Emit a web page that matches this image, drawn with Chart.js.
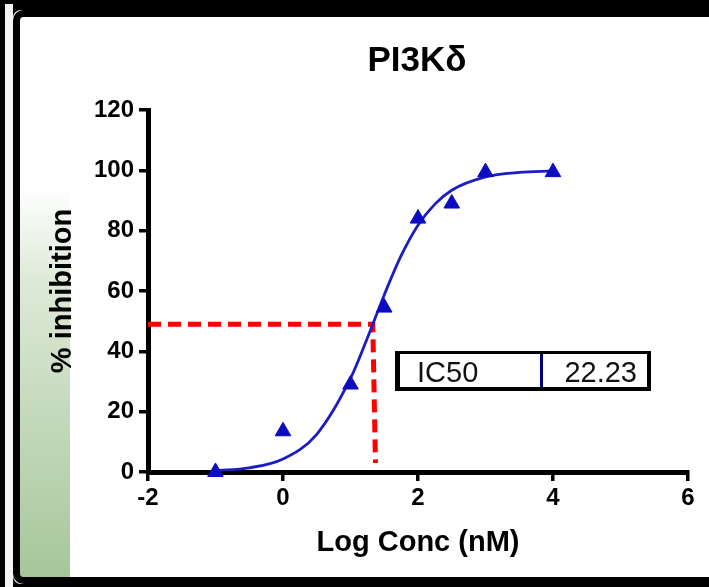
<!DOCTYPE html>
<html>
<head>
<meta charset="UTF-8">
<title>PI3Kδ</title>
<script src="https://cdn.jsdelivr.net/npm/chart.js"></script>
<style>
  html, body { margin: 0; padding: 0; background: #000; }
  #wrap { width: 709px; height: 587px; }
</style>
</head>
<body>
<div id="wrap"><canvas id="grafico" width="709" height="587"></canvas></div>
<script>
// pontos medidos (log da concentração, % inibição)
const logConc = [-1, 0, 1, 1.5, 2, 2.5, 3, 4];
const inibicao = [0, 13.5, 29, 54.5, 84, 89, 99.4, 99.4];

// curva ajustada
const curvaLog = [-1, -0.5, 0, 0.5, 1, 1.25, 1.5, 1.75, 2, 2.25, 2.5, 3, 3.5, 4];
const curvaInib = [0.45, 1.4, 4.3, 12.5, 31, 44.4, 58.7, 71.7, 81.8, 88.8, 93.4, 97.8, 99.3, 99.8];

// linhas do IC50
const ic50Texto = 'IC50';
const ic50Valor = '22.23';
const ic50Log = [-2, 1.33, 1.33, 1.37];
const ic50Inib = [49, 49, 49, 3];

const xTicks = [-2, 0, 2, 4, 6];
const yTicks = [0, 20, 40, 60, 80, 100, 120];

const fonte = "'Liberation Sans', Arial, sans-serif";

function pares(xs, ys) {
    return xs.map((x, i) => ({ x: x, y: ys[i] }));
}

// fundo, moldura e faixa verde
const fundo = {
    id: 'fundo',
    beforeDraw(chart) {
        const c = chart.ctx;
        c.save();
        c.fillStyle = '#000';
        c.fillRect(0, 0, 709, 587);
        c.fillStyle = '#f4f4f4';
        c.fillRect(5, 4, 8, 583);
        c.fillStyle = '#fff';
        c.beginPath();
        c.roundRect(13, 10, 720, 574, 8);
        c.fill();
        const g = c.createLinearGradient(0, 185, 0, 578);
        g.addColorStop(0, 'rgba(255,255,255,1)');
        g.addColorStop(0.25, '#dde9d7');
        g.addColorStop(1, '#a6c69a');
        c.fillStyle = g;
        c.fillRect(18, 185, 52, 393);
        c.lineWidth = 7;
        c.strokeStyle = '#000';
        c.beginPath();
        c.roundRect(16.5, 13.5, 720, 567, 7);
        c.stroke();
        // título
        c.fillStyle = '#000';
        c.font = 'bold 35px ' + fonte;
        c.textAlign = 'center';
        c.textBaseline = 'alphabetic';
        c.fillText('PI3Kδ', 417, 71);
        c.restore();
    }
};

// caixa do IC50
const caixa = {
    id: 'caixa',
    afterDraw(chart) {
        const c = chart.ctx;
        c.save();
        c.fillStyle = '#000';
        c.fillRect(395, 351, 256, 40);
        c.fillStyle = '#fff';
        c.fillRect(400, 354, 247, 33);
        c.fillStyle = '#000080';
        c.fillRect(540, 354, 3, 33);
        c.fillStyle = '#111';
        c.font = '29px ' + fonte;
        c.textBaseline = 'alphabetic';
        c.textAlign = 'left';
        c.fillText(ic50Texto, 417, 382);
        c.textAlign = 'right';
        c.fillText(ic50Valor, 637, 382);
        c.restore();
    }
};

const eixo = {
    drawOnChartArea: false,
    drawTicks: true,
    tickLength: 9,
    lineWidth: 3.5,
    color: '#000'
};

new Chart(document.getElementById('grafico'), {
    type: 'scatter',
    data: {
        datasets: [
            {
                data: pares(ic50Log, ic50Inib),
                showLine: true,
                borderColor: '#ff0000',
                borderWidth: 5,
                borderDash: [13, 7],
                pointRadius: 0,
                order: 3
            },
            {
                data: pares(curvaLog, curvaInib),
                showLine: true,
                borderColor: '#1c1cc4',
                borderWidth: 2.8,
                cubicInterpolationMode: 'monotone',
                pointRadius: 0,
                order: 2
            },
            {
                data: pares(logConc, inibicao),
                pointStyle: 'triangle',
                pointRadius: 9,
                backgroundColor: '#0b0bc2',
                borderColor: '#0b0bc2',
                borderWidth: 1,
                clip: false,
                order: 1
            }
        ]
    },
    options: {
        responsive: false,
        animation: false,
        events: [],
        layout: { padding: { top: 110, right: 21, left: 0, bottom: 0 } },
        plugins: {
            legend: { display: false },
            tooltip: { enabled: false }
        },
        scales: {
            x: {
                type: 'linear',
                min: -2,
                max: 6,
                afterFit: (s) => { s.height = 115; },
                afterBuildTicks: (s) => { s.ticks = xTicks.map(v => ({ value: v })); },
                ticks: { color: '#000', padding: 3, font: { family: fonte, size: 24, weight: 'bold' } },
                grid: eixo,
                border: { display: true, width: 5, color: '#000' },
                title: {
                    display: true,
                    text: 'Log Conc (nM)',
                    color: '#000',
                    font: { family: fonte, size: 29, weight: 'bold' },
                    padding: { top: 0, bottom: 27 }
                }
            },
            y: {
                min: 0,
                max: 120,
                afterFit: (s) => { s.width = 148; },
                afterBuildTicks: (s) => { s.ticks = yTicks.map(v => ({ value: v })); },
                ticks: { color: '#000', padding: 5, font: { family: fonte, size: 24, weight: 'bold' } },
                grid: eixo,
                border: { display: true, width: 5, color: '#000' },
                title: {
                    display: true,
                    text: '% inhibition',
                    color: '#000',
                    font: { family: fonte, size: 29, weight: 'bold' },
                    padding: { top: 46, bottom: 0 }
                }
            }
        }
    },
    plugins: [fundo, caixa]
});
</script>
</body>
</html>
